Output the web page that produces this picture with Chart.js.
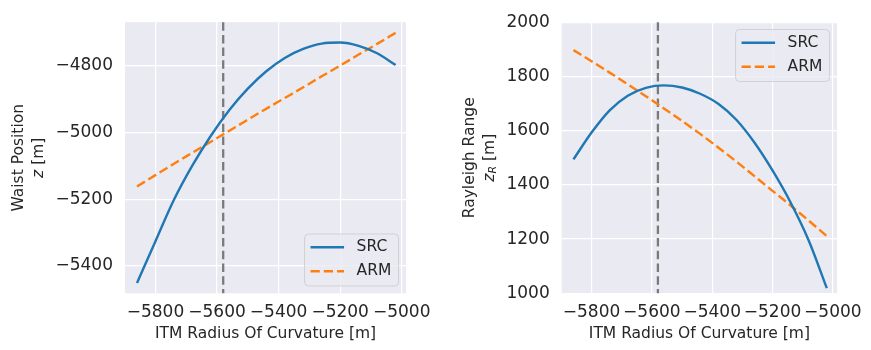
<!DOCTYPE html>
<html>
<head>
<meta charset="utf-8">
<script src="https://cdn.jsdelivr.net/npm/chart.js@4.4.1/dist/chart.umd.min.js"></script>
<style>
    html, body { margin: 0; padding: 0; background: #ffffff; }
    #wrap { position: relative; width: 871px; height: 350px; }
    canvas { position: absolute; top: 0; }
</style>
</head>
<body>
<div id="wrap">
    <canvas id="waistChart" width="440" height="350" style="left:0px"></canvas>
    <canvas id="rayleighChart" width="431" height="350" style="left:440px"></canvas>
</div>
<script>
// ITM radius of curvature [m] (x axis, both panels)
const radiusOfCurvature = [-5860, -5800, -5740, -5680, -5620, -5560, -5500, -5440, -5380, -5320, -5260, -5200, -5140, -5080, -5020];

// left panel: waist position z [m]
const waistSRC = [-5451, -5326, -5202, -5099, -5010, -4933, -4869, -4817, -4777, -4750, -4734, -4731, -4741, -4763, -4798];
const waistARM = [-5162, -5128, -5094, -5061, -5028, -4995, -4962, -4929, -4897, -4865, -4832, -4800, -4767, -4735, -4702];

// right panel: rayleigh range z_R [m]
const rayleighSRC = [1494, 1593, 1675, 1729, 1758, 1767, 1759, 1736, 1699, 1640, 1556, 1453, 1335, 1195, 1019];
const rayleighARM = [1897, 1856, 1814, 1771, 1727, 1682, 1636, 1588, 1538, 1486, 1432, 1378, 1324, 1268, 1211];

// nominal ITM RoC marker
const nominalRoC = -5580;

// tick labels
const xTicks = [-5800, -5600, -5400, -5200, -5000];
const waistTicks = [-5400, -5200, -5000, -4800];
const rayleighTicks = [1000, 1200, 1400, 1600, 1800, 2000];

const FONT = '"DejaVu Sans", sans-serif';
const TEXT = '#262626';
const DASH = [9.25, 4];

function fmt(v) {
    return v < 0 ? '\u2212' + Math.abs(v) : String(v);
}

function pts(xs, ys) {
    return xs.map((x, i) => ({ x: x, y: ys[i] }));
}

// draws rotated text made of styled parts, centred on (cx, cy)
function drawRotated(ctx, cx, cy, parts) {
    ctx.save();
    ctx.translate(cx, cy);
    ctx.rotate(-Math.PI / 2);
    ctx.textBaseline = 'middle';
    ctx.textAlign = 'left';
    ctx.fillStyle = TEXT;
    let total = 0;
    parts.forEach(p => { ctx.font = p.font; p.w = ctx.measureText(p.text).width; total += p.w; });
    let x = -total / 2;
    parts.forEach(p => {
        ctx.font = p.font;
        ctx.fillText(p.text, x, p.dy || 0);
        x += p.w;
    });
    ctx.restore();
}

const decor = {
    id: 'decor',
    beforeDraw(chart) {
        const { ctx, chartArea: a } = chart;
        ctx.save();
        ctx.fillStyle = '#eaeaf2';
        ctx.fillRect(a.left, a.top, a.right - a.left, a.bottom - a.top);
        ctx.restore();
    },
    beforeDatasetsDraw(chart, args, opts) {
        const { ctx, chartArea: a } = chart;
        const x = chart.scales.x.getPixelForValue(opts.vline);
        ctx.save();
        ctx.strokeStyle = '#7a7a7a';
        ctx.lineWidth = 2.3;
        ctx.setLineDash([8.5, 4.2]);
        ctx.beginPath();
        ctx.moveTo(x, a.top);
        ctx.lineTo(x, a.bottom);
        ctx.stroke();
        ctx.restore();
    },
    afterDraw(chart, args, opts) {
        const { ctx, chartArea: a } = chart;
        // y axis label, two lines
        opts.ylabel.forEach(l => drawRotated(ctx, l.x, (a.top + a.bottom) / 2, l.parts));

        // legend
        const w = 94, h = 52;
        const left = a.right - 7.5 - w;
        const top = opts.legendPos === 'top' ? a.top + 7.3 : a.bottom - 7.3 - h;
        ctx.save();
        ctx.beginPath();
        ctx.roundRect(left, top, w, h, 4);
        ctx.fillStyle = 'rgba(234,234,242,0.8)';
        ctx.fill();
        ctx.strokeStyle = 'rgba(204,204,204,0.8)';
        ctx.lineWidth = 1;
        ctx.stroke();
        chart.data.datasets.forEach((ds, i) => {
            const y = top + 13.2 + i * 24;
            ctx.strokeStyle = ds.borderColor;
            ctx.lineWidth = ds.borderWidth;
            ctx.setLineDash(ds.borderDash || []);
            ctx.beginPath();
            ctx.moveTo(left + 6, y);
            ctx.lineTo(left + 39.5, y);
            ctx.stroke();
            ctx.setLineDash([]);
            ctx.fillStyle = TEXT;
            ctx.font = '15.5px ' + FONT;
            ctx.textBaseline = 'middle';
            ctx.textAlign = 'left';
            ctx.fillText(ds.label, left + 52, y);
        });
        ctx.restore();
    }
};

function makeChart(id, srcData, armData, yMin, yMax, yTicks, padRight, ylabel, legendPos) {
    return new Chart(document.getElementById(id).getContext('2d'), {
        type: 'line',
        data: {
            datasets: [{
                label: 'SRC',
                data: pts(radiusOfCurvature, srcData),
                borderColor: '#1f77b4',
                borderWidth: 2.4,
                pointRadius: 0,
                cubicInterpolationMode: 'monotone'
            }, {
                label: 'ARM',
                data: pts(radiusOfCurvature, armData),
                borderColor: '#ff7f0e',
                borderWidth: 2.4,
                borderDash: DASH,
                pointRadius: 0,
                cubicInterpolationMode: 'monotone'
            }]
        },
        options: {
            responsive: false,
            animation: false,
            layout: { padding: { left: 0, top: 11.7, right: padRight, bottom: 0 } },
            plugins: {
                legend: { display: false },
                tooltip: { enabled: false },
                decor: { vline: nominalRoC, ylabel: ylabel, legendPos: legendPos }
            },
            scales: {
                x: {
                    type: 'linear',
                    min: -5899,
                    max: -4986,
                    afterBuildTicks: s => { s.ticks = xTicks.map(v => ({ value: v })); },
                    afterFit: s => { s.height = 56.7; },
                    border: { display: false },
                    grid: { color: '#ffffff', lineWidth: 1.2, drawTicks: false },
                    ticks: { color: TEXT, padding: 9, maxRotation: 0, autoSkip: false, font: { family: FONT, size: 17 }, callback: v => fmt(v) }
                },
                y: {
                    type: 'linear',
                    min: yMin,
                    max: yMax,
                    afterBuildTicks: s => { s.ticks = yTicks.map(v => ({ value: v })); },
                    afterFit: s => { s.width = id === 'waistChart' ? 125 : 121.7; },
                    border: { display: false },
                    grid: { color: '#ffffff', lineWidth: 1.2, drawTicks: false },
                    ticks: { color: TEXT, padding: 12, font: { family: FONT, size: 17 }, callback: v => fmt(v) }
                }
            }
        },
        plugins: [decor, {
            id: 'xtitle',
            afterDraw(chart) {
                const { ctx, chartArea: a } = chart;
                ctx.save();
                ctx.fillStyle = TEXT;
                ctx.font = '15.5px ' + FONT;
                ctx.textAlign = 'center';
                ctx.textBaseline = 'middle';
                ctx.fillText('ITM Radius Of Curvature [m]', (a.left + a.right) / 2, 334);
                ctx.restore();
            }
        }]
    });
}

const labelFont = '15.5px ' + FONT;
const italicFont = 'italic 15.5px ' + FONT;

makeChart('waistChart', waistSRC, waistARM, -5482, -4670, waistTicks, 33.3, [
    { x: 19, parts: [{ text: 'Waist Position', font: labelFont }] },
    { x: 39, parts: [{ text: 'z', font: italicFont }, { text: ' [m]', font: labelFont }] }
], 'bottom');

makeChart('rayleighChart', rayleighSRC, rayleighARM, 1000, 2000, rayleighTicks, 27.7, [
    { x: 30, parts: [{ text: 'Rayleigh Range', font: labelFont }] },
    { x: 50, parts: [{ text: 'z', font: italicFont }, { text: 'R', font: 'italic 11px ' + FONT, dy: 3.5 }, { text: ' [m]', font: labelFont }] }
], 'top');
</script>
</body>
</html>
